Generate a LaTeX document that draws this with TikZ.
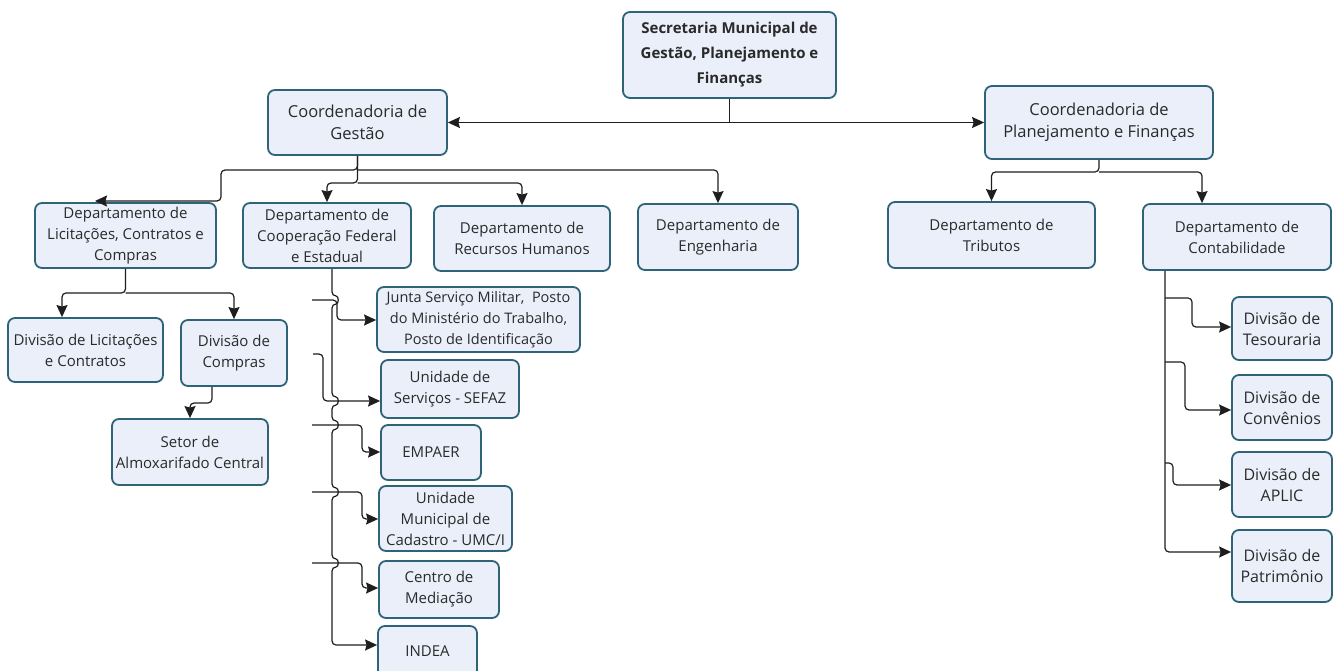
\documentclass[tikz,border=0pt]{standalone}
\usepackage{fontspec}
\setmainfont{Open Sans}
\usetikzlibrary{arrows.meta}
\definecolor{boxfill}{HTML}{EAEFFA}
\definecolor{boxline}{HTML}{2E6378}
\definecolor{lineclr}{HTML}{1E1E1E}
\definecolor{txt}{HTML}{2A2A2A}
\newcommand\orgbox[7][]{%
  \node[box,#1,minimum width={#5-#3},minimum height={#6-#4}] (#2) at ({(#3+#5)/2},{(#4+#6)/2}) {#7};}
\newcommand\jmp[1]{-- (332,{#1-4}) .. controls (339,{#1-4}) and (339,{#1+4}) .. (332,{#1+4})}
\begin{document}
\begin{tikzpicture}[x=1pt,y=-1pt,
  box/.style={draw=boxline, line width=1.8pt, fill=boxfill, rounded corners=7pt,
    align=center, inner sep=0pt, text=txt, font=\fontsize{15}{21}\selectfont},
  big/.style={font=\fontsize{16.5}{22}\selectfont},
  mid/.style={font=\fontsize{16}{21}\selectfont},
  tip/.tip={Stealth[length=12pt,width=11pt,inset=1.5pt]},
  conn/.style={draw=lineclr, line width=1.2pt, rounded corners=4pt},
  arr/.style={conn, -tip}]
\useasboundingbox (0,0) rectangle (1341,671);
\fill[white] (0,0) rectangle (1341,671);

% boxes
\orgbox[font=\bfseries\fontsize{15}{25}\selectfont]{sec}{623}{12}{836}{98}{Secretaria Municipal de\\Gestão, Planejamento e\\Finanças}
\orgbox[big]{gest}{268}{90}{447}{155}{Coordenadoria de\\Gestão}
\orgbox[big]{plan}{985}{86}{1213}{159}{Coordenadoria de\\Planejamento e Finanças}
\orgbox{lic}{35}{203}{216}{268}{Departamento de\\Licitações, Contratos e\\Compras}
\orgbox{coop}{243}{203}{411}{268}{Departamento de\\Cooperação Federal\\e Estadual}
\orgbox{rh}{434}{206}{610}{271}{Departamento de\\Recursos Humanos}
\orgbox{eng}{638}{204}{798}{270}{Departamento de\\Engenharia}
\orgbox{trib}{888}{202}{1095}{268}{Departamento de\\Tributos}
\orgbox{cont}{1143}{204}{1331}{270}{Departamento de\\Contabilidade}
\orgbox{divlic}{8}{318}{163}{382}{Divisão de Licitações\\e Contratos}
\orgbox{divcomp}{181}{320}{287}{386}{Divisão de\\Compras}
\orgbox{setor}{112}{419}{268}{485}{Setor de\\Almoxarifado Central}
\orgbox[font=\fontsize{14.5}{21}\selectfont]{junta}{377}{287}{580}{352}{Junta Serviço Militar,\ \ Posto\\do Ministério do Trabalho,\\Posto de Identificação}
\orgbox{sefaz}{381}{360}{519}{418}{Unidade de\\Serviços - SEFAZ}
\orgbox{empaer}{381}{425}{481}{480}{EMPAER}
\orgbox{umc}{379}{486}{512}{551}{Unidade\\Municipal de\\Cadastro - UMC/I}
\orgbox{med}{379}{561}{499}{618}{Centro de\\Mediação}
\orgbox{indea}{378}{626}{477}{677}{INDEA}
\orgbox[mid]{tes}{1232}{297}{1332}{360}{Divisão de\\Tesouraria}
\orgbox[mid]{conv}{1232}{375}{1332}{440}{Divisão de\\Convênios}
\orgbox[mid]{aplic}{1232}{452}{1332}{517}{Divisão de\\APLIC}
\orgbox[mid]{pat}{1232}{530}{1332}{602}{Divisão de\\Patrimônio}

% top level
\draw[conn] (sec.south) -- (sec.south |- gest.east);
\draw[conn, tip-tip] (gest.east) -- (plan.west);

% Coordenadoria de Gestao
\draw[arr] (gest.south) -- (357.5,170) -- (221,170) -- (221,201) -- (95,201);
\draw[arr] (357.5,170) -- (718,170) -- (eng.north);
\draw[arr] (gest.south) -- (357.5,183) -- (327,183) -- (coop.north);
\draw[arr] (357.5,183) -- (522,183) -- (rh.north);

% Coordenadoria de Planejamento
\draw[arr] (plan.south) -- (1099,172) -- (991.5,172) -- (trib.north);
\draw[arr] (1099,172) -- (1202,172) -- (1202,0 |- cont.north);

% Licitacoes subtree
\draw[arr] (lic.south) -- (125.5,293) -- (62,293) -- (62,0 |- divlic.north);
\draw[arr] (125.5,293) -- (234,293) -- (divcomp.north);
\draw[arr] (212,0 |- divcomp.south) -- (212,403) -- (190,403) -- (setor.north);

% Cooperacao subtree
\coordinate (fj) at (312,300);
\coordinate (fs) at (313,354);
\coordinate (fe) at (312,425);
\coordinate (fu) at (312,492);
\coordinate (fm) at (312,563);
\draw[arr] (332,0 |- coop.south) \jmp{300} \jmp{401} \jmp{425} \jmp{492} \jmp{563} -- (332,645) -- (indea.west |- 0,645);
\draw[arr] (fj) -- (337,300) -- (337,320) -- (junta.west |- 0,320);
\draw[arr] (fs) -- (323,354) -- (323,401) -- (sefaz.west |- 0,401);
\draw[arr] (fe) -- (362,425) -- (362,452) -- (empaer.west |- 0,452);
\draw[arr] (fu) -- (362,492) -- (362,519) -- (umc.west |- 0,519);
\draw[arr] (fm) -- (362,563) -- (362,588) -- (med.west |- 0,588);

% Contabilidade subtree
\draw[arr] (1165,0 |- cont.south) -- (1165,552) -- (pat.west |- 0,552);
\draw[arr] (1165,298) -- (1192,298) -- (1192,327) -- (tes.west |- 0,327);
\draw[arr] (1165,362) -- (1185,362) -- (1185,410) -- (conv.west |- 0,410);
\draw[arr] (1165,463) -- (1173,463) -- (1173,485) -- (aplic.west |- 0,485);
\end{tikzpicture}
\end{document}
